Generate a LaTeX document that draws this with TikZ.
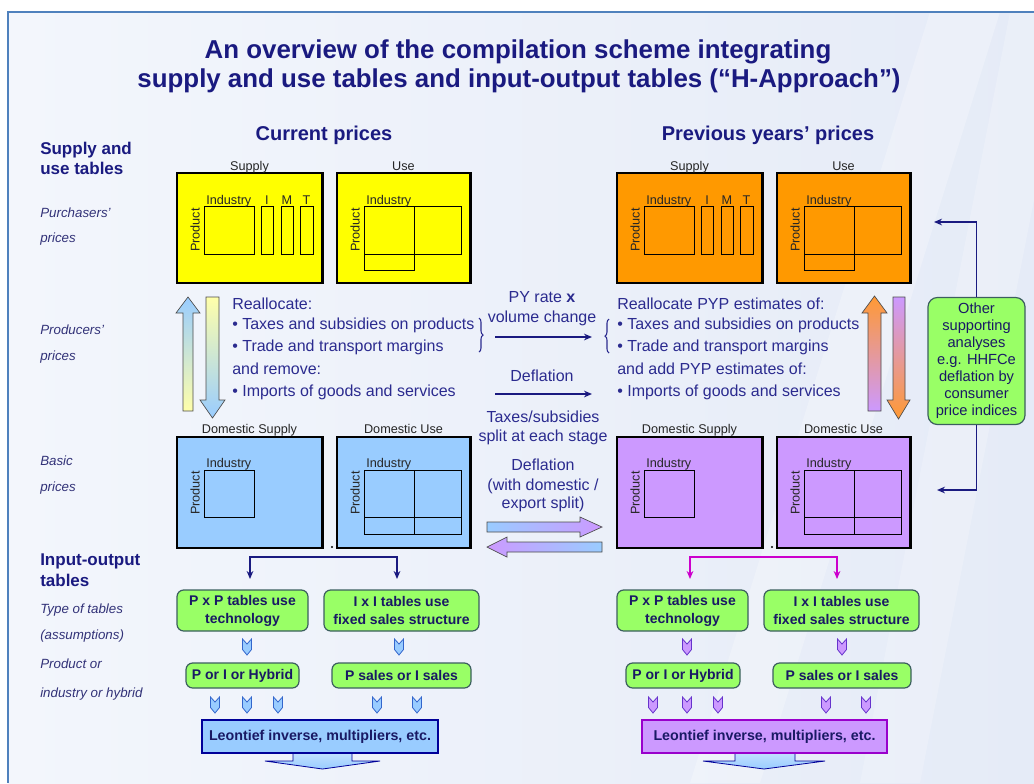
\documentclass[tikz,border=0pt]{standalone}
\usepackage{fontspec}
\setmainfont{Liberation Sans}
\usetikzlibrary{fit,arrows.meta,decorations.pathreplacing}
\definecolor{navy}{RGB}{26,26,128}
\definecolor{midnavy}{RGB}{43,43,143}
\definecolor{itc}{RGB}{50,50,120}
\definecolor{gtext}{RGB}{25,25,100}
\definecolor{ylw}{RGB}{255,255,0}
\definecolor{org}{RGB}{255,153,0}
\definecolor{orgarr}{RGB}{255,153,51}
\definecolor{lblue}{RGB}{153,204,255}
\definecolor{lpurp}{RGB}{204,153,255}
\definecolor{lyel}{RGB}{255,255,170}
\definecolor{grn}{RGB}{153,255,102}
\definecolor{grnbd}{RGB}{60,95,95}
\definecolor{frameblue}{RGB}{79,129,189}
\definecolor{magen}{RGB}{204,0,204}
\definecolor{bgL}{RGB}{243,246,252}
\definecolor{bgR}{RGB}{229,235,247}
\definecolor{chevbl}{RGB}{51,102,204}
\definecolor{chevpu}{RGB}{102,51,204}
\definecolor{leobd}{RGB}{0,0,153}
\definecolor{leopbd}{RGB}{153,0,204}

\newcommand\chevdn[4]{\filldraw[fill=#3,draw=#4,line width=0.6pt] (#1-4.5,#2) -- (#1,#2+5) -- (#1+4.5,#2) -- (#1+4.5,#2+10.5) -- (#1,#2+16) -- (#1-4.5,#2+10.5) -- cycle;}

\newcommand\purchpair[3]{%
  \node[tbox,fill=#2,fit={(177+#1,173) (322+#1,283)}] (#3S) {};
  \draw[line width=1.6pt] (#3S.north east) -- (#3S.south east);
  \node[tbox,fill=#2,fit={(337+#1,173) (470+#1,283)}] (#3U) {};
  \draw[line width=1.6pt] (#3U.north east) -- (#3U.south east);
  \node[blbl,anchor=base] (#3Sl) at (249.5+#1,170) {Supply};
  \node[blbl,anchor=base] (#3Ul) at (403.5+#1,170) {Use};
  \draw[inr] (204+#1,206) rectangle (254+#1,254);
  \draw[inr] (261+#1,206) rectangle (273+#1,254);
  \draw[inr] (281+#1,206) rectangle (293+#1,254);
  \draw[inr] (300+#1,206) rectangle (313+#1,254);
  \node[blbl,anchor=base west] (#3Si) at (206+#1,204) {Industry};
  \node[blbl,anchor=base] (#3SI) at (267+#1,204) {I};
  \node[blbl,anchor=base] (#3SM) at (287+#1,204) {M};
  \node[blbl,anchor=base] (#3ST) at (306.5+#1,204) {T};
  \node[blbl,rotate=90] (#3Sp) at (195+#1,230) {Product};
  \draw[inr] (364+#1,206) rectangle (461+#1,254);
  \draw[inr] (414+#1,206) -- (414+#1,254);
  \draw[inr] (364+#1,254) rectangle (414+#1,270);
  \node[blbl,anchor=base west] (#3Ui) at (366+#1,204) {Industry};
  \node[blbl,rotate=90] (#3Up) at (355+#1,230) {Product};
}

\newcommand\basicpair[3]{%
  \node[tbox,fill=#2,fit={(177+#1,437) (322+#1,548)}] (#3S) {};
  \draw[line width=1.6pt] (#3S.north east) -- (#3S.south east);
  \node[tbox,fill=#2,fit={(337+#1,437) (470+#1,548)}] (#3U) {};
  \draw[line width=1.6pt] (#3U.north east) -- (#3U.south east);
  \node[blbl,anchor=base] (#3Sl) at (249.5+#1,433) {Domestic Supply};
  \node[blbl,anchor=base] (#3Ul) at (403.5+#1,433) {Domestic Use};
  \draw[inr] (204+#1,470) rectangle (254+#1,517);
  \node[blbl,anchor=base west] (#3Si) at (206+#1,467) {Industry};
  \node[blbl,rotate=90] (#3Sp) at (195+#1,493) {Product};
  \draw[inr] (364+#1,470) rectangle (461+#1,534);
  \draw[inr] (414+#1,470) -- (414+#1,534);
  \draw[inr] (364+#1,517) -- (461+#1,517);
  \node[blbl,anchor=base west] (#3Ui) at (366+#1,467) {Industry};
  \node[blbl,rotate=90] (#3Up) at (355+#1,493) {Product};
  \fill (332+#1,547) circle (1.1);
}

\begin{document}
\begin{tikzpicture}[x=0.75pt,y=-0.75pt,
  tbox/.style={draw=black,line width=0.8pt,inner sep=0pt},
  inr/.style={draw=black,line width=0.75pt},
  blbl/.style={font=\fontsize{9.5}{11}\selectfont,text=black!85,inner sep=0pt},
  gbox/.style={draw=grnbd,fill=grn,line width=0.9pt,rounded corners=5pt,inner sep=0pt,align=center,text=gtext,font=\bfseries\fontsize{10.5}{13.5}\selectfont},
  obox/.style={draw=grnbd,fill=grn,line width=0.9pt,rounded corners=7pt,inner sep=0pt,align=center,text=gtext,font=\fontsize{11}{12.75}\selectfont},
  sidehead/.style={font=\bfseries\fontsize{12.75}{15}\selectfont,text=navy,inner sep=0pt,anchor=base west},
  sidelbl/.style={font=\itshape\fontsize{10}{12}\selectfont,text=itc,inner sep=0pt,anchor=base west},
  colhead/.style={font=\bfseries\fontsize{15}{18}\selectfont,text=navy,inner sep=0pt,anchor=base},
  ttl/.style={font=\bfseries\fontsize{19.4}{23}\selectfont,text=navy,inner sep=0pt,anchor=base},
  mt/.style={font=\fontsize{12}{14}\selectfont,text=midnavy,inner sep=0pt},
  leo/.style={line width=1.2pt,inner sep=0pt,text=gtext,font=\bfseries\fontsize{10.7}{13}\selectfont,minimum height=24.75pt},
  conn/.style={draw=navy,line width=1.1pt,-{Stealth[length=6pt,width=5pt]}},
  tip/.tip={Stealth[length=6pt,width=5pt]},
  blockarr/.style={draw=gray!60!black,line width=0.5pt},
  big/.style={minimum height=30.75pt},
  small/.style={minimum height=18.75pt}
]
\useasboundingbox (0,0) rectangle (1034,783);
% background and frame
\fill[white] (0,0) rectangle (1034,783);
\shade[left color=bgL,right color=bgR] (8,12) rectangle (1034,783);
\fill[white,opacity=0.25] (930,12) -- (1000,12) -- (760,783) -- (690,783) -- cycle;
\fill[white,opacity=0.2] (1010,12) -- (1034,12) -- (1034,200) -- (920,783) -- (860,783) -- cycle;
\draw[frameblue,line width=1.5pt] (8,783) -- (8,12) -- (1034,12);

% title
\node[ttl] (title1) at (518,58) {An overview of the compilation scheme integrating};
\node[ttl] (title2) at (519,87) {supply and use tables and input-output tables (“H-Approach”)};
\node[colhead] (cp) at (324,140) {Current prices};
\node[colhead] (pyp) at (768,140) {Previous years’ prices};

% left side labels
\node[sidehead] (h1) at (40,154) {Supply and};
\node[sidehead] (h2) at (40,174) {use tables};
\node[sidelbl] (l1) at (40,217) {Purchasers’};
\node[sidelbl] (l2) at (40,242) {prices};
\node[sidelbl] (l3) at (40,334) {Producers’};
\node[sidelbl] (l4) at (40,360) {prices};
\node[sidelbl] (l5) at (40,465) {Basic};
\node[sidelbl] (l6) at (40,491) {prices};
\node[sidehead] (h3) at (40,565) {Input-output};
\node[sidehead] (h4) at (40,586) {tables};
\node[sidelbl] (l7) at (40,613) {Type of tables};
\node[sidelbl] (l8) at (40,639) {(assumptions)};
\node[sidelbl] (l9) at (40,668) {Product or};
\node[sidelbl] (l10) at (40,697) {industry or hybrid};

% supply and use tables
\purchpair{0}{ylw}{cpp}
\purchpair{440}{org}{ppp}
\basicpair{0}{lblue}{cbp}
\basicpair{440}{lpurp}{pbp}

% vertical block arrows
\shadedraw[blockarr,top color=lblue,bottom color=lyel] (188,297) -- (200,313) -- (193,313) -- (193,411) -- (183,411) -- (183,313) -- (176,313) -- cycle;
\shadedraw[blockarr,top color=lyel,bottom color=lblue] (206,297) -- (219,297) -- (219,400) -- (225,400) -- (212.5,418) -- (200,400) -- (206,400) -- cycle;
\shadedraw[blockarr,top color=orgarr,bottom color=lpurp] (874.5,296) -- (887,313) -- (881,313) -- (881,411) -- (868,411) -- (868,313) -- (862,313) -- cycle;
\shadedraw[blockarr,top color=lpurp,bottom color=orgarr] (893,297) -- (905,297) -- (905,400) -- (910,400) -- (898.5,419) -- (887,400) -- (893,400) -- cycle;

% left text block
\node[mt,anchor=base west] (rl1) at (232,309) {Reallocate:};
\node[mt,anchor=base west] (rl2) at (232,329) {• Taxes and subsidies on products};
\node[mt,anchor=base west] (rl3) at (232,351) {• Trade and transport margins};
\node[mt,anchor=base west] (rl4) at (232,374) {and remove:};
\node[mt,anchor=base west] (rl5) at (232,396) {• Imports of goods and services};
% right text block
\node[mt,anchor=base west] (rr1) at (617,309) {Reallocate PYP estimates of:};
\node[mt,anchor=base west] (rr2) at (617,329) {• Taxes and subsidies on products};
\node[mt,anchor=base west] (rr3) at (617,351) {• Trade and transport margins};
\node[mt,anchor=base west] (rr4) at (617,374) {and add PYP estimates of:};
\node[mt,anchor=base west] (rr5) at (617,396) {• Imports of goods and services};
% middle column
\node[mt,anchor=base] (py1) at (542,302) {PY rate \textbf{x}};
\node[mt,anchor=base] (py2) at (542,322) {volume change};
\node[mt,anchor=base] (df1) at (542,381) {Deflation};
\node[mt,anchor=base] (tx1) at (543,422) {Taxes/subsidies};
\node[mt,anchor=base] (tx2) at (543,441) {split at each stage};
\node[mt,anchor=base] (df2) at (543,470) {Deflation};
\node[mt,anchor=base] (df3) at (543,490) {(with domestic /};
\node[mt,anchor=base] (df4) at (543,508) {export split)};

\draw[midnavy,line width=0.8pt,decorate,decoration={brace,amplitude=3pt}] (479,318) -- (479,352);
\draw[midnavy,line width=0.8pt,decorate,decoration={brace,amplitude=3pt}] (609,353) -- (609,319);

\coordinate (a1s) at (495,337);
\coordinate (a1e) at (592,337);
\coordinate (a2s) at (495,394);
\coordinate (a2e) at (592,394);
\draw[conn] (a1s) -- (a1e);
\draw[conn] (a2s) -- (a2e);

% horizontal block arrows
\shadedraw[blockarr,left color=lblue,right color=lpurp] (487,522) -- (580,522) -- (580,517) -- (602,527) -- (580,537) -- (580,532) -- (487,532) -- cycle;
\shadedraw[blockarr,left color=lpurp,right color=lblue] (602,542) -- (507,542) -- (507,537) -- (487,547) -- (507,557) -- (507,552) -- (602,552) -- cycle;

% other supporting analyses
\node[obox,minimum width=72.75pt,minimum height=95.25pt] (oth) at (976.5,361) {Other\\supporting\\analyses\\e.g. HHFCe\\deflation by\\consumer\\price indices};
\coordinate (othT) at (934,222);
\coordinate (othB) at (937,490);
\draw[conn] (oth.north) |- (othT);
\draw[conn] (oth.south) |- (othB);

% input-output brackets
\coordinate (bl) at (250,579);
\coordinate (br) at (397,579);
\coordinate (pl) at (690,579);
\coordinate (pr) at (837,579);
\draw[draw=navy,line width=1.1pt,{tip}-{tip}] (bl) -- ++(0,-22) -| (br);
\draw[draw=magen,line width=1.1pt,{tip}-{tip}] (pl) -- ++(0,-22) -| (pr);

% IO boxes
\node[gbox,big,minimum width=98.25pt] (lpp) at (242.5,610.5) {P x P tables use\\technology};
\node[gbox,big,minimum width=116.25pt] (lii) at (401.5,610.5) {I x I tables use\\fixed sales structure};
\node[gbox,small,minimum width=84.75pt] (lph) at (242.5,675.5) {P or I or Hybrid};
\node[gbox,small,minimum width=104.25pt] (lps) at (401.5,675.5) {P sales or I sales};
\node[gbox,big,minimum width=98.25pt] (rpp) at (682.5,610.5) {P x P tables use\\technology};
\node[gbox,big,minimum width=116.25pt] (rii) at (841.5,610.5) {I x I tables use\\fixed sales structure};
\node[gbox,small,minimum width=85.5pt] (rph) at (683,675.5) {P or I or Hybrid};
\node[gbox,small,minimum width=103.5pt] (rps) at (842,675.5) {P sales or I sales};

% chevrons
\chevdn{247}{639}{lblue}{chevbl}
\chevdn{399}{639}{lblue}{chevbl}
\chevdn{215}{697}{lblue}{chevbl}
\chevdn{247}{697}{lblue}{chevbl}
\chevdn{278}{697}{lblue}{chevbl}
\chevdn{377}{697}{lblue}{chevbl}
\chevdn{417}{697}{lblue}{chevbl}
\chevdn{687}{639}{lpurp}{chevpu}
\chevdn{842}{639}{lpurp}{chevpu}
\chevdn{653}{697}{lpurp}{chevpu}
\chevdn{687}{697}{lpurp}{chevpu}
\chevdn{718}{697}{lpurp}{chevpu}
\chevdn{826}{697}{lpurp}{chevpu}
\chevdn{866}{697}{lpurp}{chevpu}

% bottom arrows
\shadedraw[draw=leobd,line width=0.6pt,top color=lblue!40,bottom color=lblue] (293,745) -- (293,761) -- (265,761) -- (322.5,769) -- (380,761) -- (352,761) -- (352,745) -- cycle;
\shadedraw[draw=leobd,line width=0.6pt,top color=lblue!40,bottom color=lblue] (735,745) -- (735,761) -- (703,761) -- (764,769) -- (825,761) -- (795,761) -- (795,745) -- cycle;

% Leontief boxes
\node[leo,draw=leobd,fill=lblue,minimum width=177pt] (lleo) at (320,736.5) {Leontief inverse, multipliers, etc.};
\node[leo,draw=leopbd,fill=lpurp,minimum width=183.75pt] (rleo) at (764.5,736.5) {Leontief inverse, multipliers, etc.};
\end{tikzpicture}
\end{document}
